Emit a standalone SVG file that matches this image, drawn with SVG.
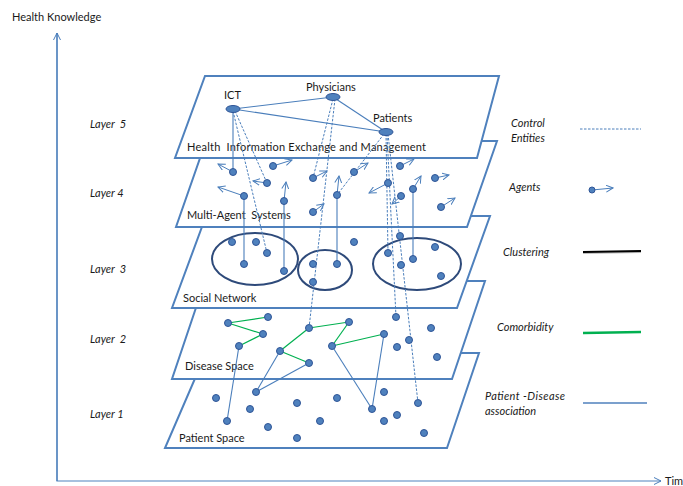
<svg xmlns="http://www.w3.org/2000/svg" width="683" height="486" viewBox="0 0 683 486">
<style>
text{font-family:Lato,"Liberation Sans",sans-serif;font-size:11px;fill:#1a1a1a;white-space:pre}
.it{font-style:italic}
.plane{fill:#fff;stroke:#4f81bd;stroke-width:2}
.dot{fill:#4f81bd;stroke:#2f5597;stroke-width:1}
.ln{stroke:#4a7ebb;stroke-width:1.1;fill:none}
.dash{stroke:#4a7ebb;stroke-width:1;stroke-dasharray:2.5 1.5;fill:none}
.arr{stroke:#4a7ebb;stroke-width:1;fill:none;marker-end:url(#oa)}
.green{stroke:#00b050;stroke-width:1.2;fill:none}
.clu{fill:none;stroke:#2e4a7a;stroke-width:2}
.axis{stroke:#4f81bd;stroke-width:1.2;fill:none}
</style>
<defs>
<marker id="oa" viewBox="0 0 8 8" refX="7" refY="4" markerWidth="8" markerHeight="8" markerUnits="userSpaceOnUse" orient="auto">
<path d="M0,0.5 L7,4 L0,7.5" fill="none" stroke="#4a7ebb" stroke-width="1"/>
</marker>
</defs>

<g id="axes">
<path class="axis" d="M57,33 V481 H661" marker-end="url(#oa)"/>
<path class="axis" d="M57,481 V33" marker-end="url(#oa)"/>
<text x="12" y="21">Health Knowledge</text>
<text x="665" y="485">Time</text>
</g>

<g id="layer-labels">
<text class="it" x="90" y="128">Layer  5</text>
<text class="it" x="90" y="197">Layer 4</text>
<text class="it" x="90" y="273">Layer  3</text>
<text class="it" x="90" y="343">Layer  2</text>
<text class="it" x="90" y="418">Layer 1</text>
</g>

<g id="layer1">
<polygon class="plane" points="206,353 479,353 447,448 165,448"/>
<text x="179" y="442">Patient Space</text>
</g>
<g id="layer2">
<polygon class="plane" points="205,281 485,281 452,379 172,379"/>
<text x="185" y="370">Disease Space</text>
</g>
<g id="layer3">
<polygon class="plane" points="206,216 490,216 457,308 172,308"/>
<text x="183" y="302">Social Network</text>
</g>
<g id="layer4">
<polygon class="plane" points="206,141 497,141 467,227 176,227"/>
<text x="187" y="219">Multi-Agent  Systems</text>
</g>
<g id="layer5">
<polygon class="plane" points="205,76 499,76 477,158 175,158"/>
<text x="187" y="151" textLength="239" lengthAdjust="spacing">Health  Information Exchange and Management</text>
</g>

<g id="clusters">
<ellipse class="clu" cx="255" cy="259" rx="43" ry="26"/>
<ellipse class="clu" cx="325" cy="270" rx="27" ry="20"/>
<ellipse class="clu" cx="417" cy="264" rx="44" ry="26"/>
</g>

<g id="connectors">
<line class="ln" x1="233" y1="109" x2="333" y2="97"/>
<line class="ln" x1="233" y1="109" x2="386" y2="132"/>
<line class="ln" x1="333" y1="97" x2="386" y2="132"/>
<line class="ln" x1="233" y1="109" x2="233" y2="172"/>
<line class="dash" x1="235" y1="111" x2="267" y2="183"/>
<line class="dash" x1="233" y1="111" x2="267" y2="253"/>
<line class="dash" x1="333" y1="99" x2="313" y2="178"/>
<line class="dash" x1="335" y1="99" x2="309" y2="328"/>
<line class="dash" x1="384" y1="134" x2="337" y2="195"/>
<line class="dash" x1="386" y1="134" x2="388" y2="253"/>
<line class="dash" x1="387" y1="134" x2="396" y2="317"/>
<line class="dash" x1="388" y1="134" x2="418" y2="403"/>
<line class="ln" x1="244" y1="196" x2="244" y2="264"/>
<line class="ln" x1="284" y1="201" x2="284" y2="271"/>
<line class="ln" x1="337" y1="195" x2="337" y2="264"/>
<line class="ln" x1="413" y1="189" x2="413" y2="259"/>
<line class="green" x1="228" y1="323" x2="268" y2="317"/>
<line class="green" x1="228" y1="323" x2="263" y2="334"/>
<line class="green" x1="263" y1="334" x2="239" y2="346"/>
<line class="green" x1="309" y1="328" x2="349" y2="322"/>
<line class="green" x1="309" y1="328" x2="280" y2="351"/>
<line class="green" x1="280" y1="351" x2="309" y2="363"/>
<line class="green" x1="349" y1="322" x2="332" y2="346" stroke-width="1.8"/>
<line class="green" x1="332" y1="346" x2="384" y2="334"/>
<line class="ln" x1="239" y1="346" x2="227" y2="421"/>
<line class="ln" x1="280" y1="351" x2="256" y2="392"/>
<line class="ln" x1="309" y1="363" x2="256" y2="392"/>
<line class="ln" x1="332" y1="346" x2="372" y2="409"/>
<line class="ln" x1="384" y1="334" x2="372" y2="409"/>
</g>

<g id="entities">
<g id="ict"><ellipse class="dot" cx="233" cy="109" rx="7" ry="3.5"/><text x="224" y="99">ICT</text></g>
<g id="physicians"><ellipse class="dot" cx="333" cy="97" rx="7" ry="3.5"/><text x="306" y="91">Physicians</text></g>
<g id="patients"><ellipse class="dot" cx="386" cy="132" rx="7" ry="3.5"/><text x="373" y="122">Patients</text></g>
</g>

<g id="agents">
<line class="arr" x1="233" y1="172" x2="218" y2="164"/><circle class="dot" cx="233" cy="172" r="3.5"/>
<line class="arr" x1="267" y1="183" x2="253" y2="181"/><circle class="dot" cx="267" cy="183" r="3.5"/>
<line class="arr" x1="273" y1="166" x2="292" y2="160"/><circle class="dot" cx="273" cy="166" r="3.5"/>
<line class="arr" x1="244" y1="196" x2="218" y2="187"/><circle class="dot" cx="244" cy="196" r="3.5"/>
<line class="arr" x1="284" y1="201" x2="286" y2="182"/><circle class="dot" cx="284" cy="201" r="3.5"/>
<line class="arr" x1="313" y1="178" x2="327" y2="171"/><circle class="dot" cx="313" cy="178" r="3.5"/>
<line class="arr" x1="313" y1="212" x2="324" y2="204"/><circle class="dot" cx="313" cy="212" r="3.5"/>
<line class="arr" x1="337" y1="195" x2="339" y2="176"/><circle class="dot" cx="337" cy="195" r="3.5"/>
<line class="arr" x1="354" y1="172" x2="368" y2="163"/><circle class="dot" cx="354" cy="172" r="3.5"/>
<line class="arr" x1="400" y1="166" x2="414" y2="159"/><circle class="dot" cx="400" cy="166" r="3.5"/>
<line class="arr" x1="388" y1="183" x2="369" y2="193"/><circle class="dot" cx="388" cy="183" r="3.5"/>
<line class="arr" x1="401" y1="196" x2="392" y2="204"/><circle class="dot" cx="401" cy="196" r="3.5"/>
<line class="arr" x1="413" y1="189" x2="421" y2="176"/><circle class="dot" cx="413" cy="189" r="3.5"/>
<line class="arr" x1="435" y1="178" x2="449" y2="175"/><circle class="dot" cx="435" cy="178" r="3.5"/>
<line class="arr" x1="441" y1="207" x2="455" y2="198"/><circle class="dot" cx="441" cy="207" r="3.5"/>
</g>

<g id="social-nodes">
<circle class="dot" cx="232" cy="242" r="3.5"/>
<circle class="dot" cx="256" cy="242" r="3.5"/>
<circle class="dot" cx="267" cy="253" r="3.5"/>
<circle class="dot" cx="244" cy="264" r="3.5"/>
<circle class="dot" cx="284" cy="271" r="3.5"/>
<circle class="dot" cx="313" cy="264" r="3.5"/>
<circle class="dot" cx="337" cy="264" r="3.5"/>
<circle class="dot" cx="313" cy="282" r="3.5"/>
<circle class="dot" cx="354" cy="242" r="3.5"/>
<circle class="dot" cx="400" cy="236" r="3.5"/>
<circle class="dot" cx="388" cy="253" r="3.5"/>
<circle class="dot" cx="401" cy="265" r="3.5"/>
<circle class="dot" cx="413" cy="259" r="3.5"/>
<circle class="dot" cx="435" cy="247" r="3.5"/>
<circle class="dot" cx="441" cy="276" r="3.5"/>
</g>

<g id="disease-nodes">
<circle class="dot" cx="228" cy="323" r="3.5"/>
<circle class="dot" cx="268" cy="317" r="3.5"/>
<circle class="dot" cx="263" cy="334" r="3.5"/>
<circle class="dot" cx="239" cy="346" r="3.5"/>
<circle class="dot" cx="309" cy="328" r="3.5"/>
<circle class="dot" cx="349" cy="322" r="3.5"/>
<circle class="dot" cx="384" cy="334" r="3.5"/>
<circle class="dot" cx="332" cy="346" r="3.5"/>
<circle class="dot" cx="280" cy="351" r="3.5"/>
<circle class="dot" cx="309" cy="363" r="3.5"/>
<circle class="dot" cx="396" cy="317" r="3.5"/>
<circle class="dot" cx="431" cy="328" r="3.5"/>
<circle class="dot" cx="409" cy="340" r="3.5"/>
<circle class="dot" cx="397" cy="347" r="3.5"/>
<circle class="dot" cx="437" cy="357" r="3.5"/>
</g>

<g id="patient-nodes">
<circle class="dot" cx="216" cy="398" r="3.5"/>
<circle class="dot" cx="256" cy="392" r="3.5"/>
<circle class="dot" cx="250" cy="409" r="3.5"/>
<circle class="dot" cx="227" cy="421" r="3.5"/>
<circle class="dot" cx="268" cy="427" r="3.5"/>
<circle class="dot" cx="297" cy="403" r="3.5"/>
<circle class="dot" cx="297" cy="438" r="3.5"/>
<circle class="dot" cx="320" cy="421" r="3.5"/>
<circle class="dot" cx="337" cy="398" r="3.5"/>
<circle class="dot" cx="372" cy="409" r="3.5"/>
<circle class="dot" cx="384" cy="392" r="3.5"/>
<circle class="dot" cx="384" cy="421" r="3.5"/>
<circle class="dot" cx="397" cy="415" r="3.5"/>
<circle class="dot" cx="418" cy="403" r="3.5"/>
<circle class="dot" cx="424" cy="433" r="3.5"/>
</g>

<g id="legend">
<text class="it" x="511" y="127">Control</text>
<text class="it" x="511" y="142">Entities</text>
<line class="dash" x1="580" y1="129" x2="641" y2="129" stroke-dasharray="1.5 1"/>
<text class="it" x="509" y="191">Agents</text>
<line class="arr" x1="592" y1="190" x2="613" y2="188"/>
<circle class="dot" cx="592" cy="190" r="3"/>
<text class="it" x="503" y="256">Clustering</text>
<line x1="583" y1="253" x2="641" y2="252" stroke="#bbb" stroke-width="2"/>
<line x1="583" y1="252" x2="641" y2="251" stroke="#000" stroke-width="1.8"/>
<text class="it" x="497" y="331">Comorbidity</text>
<line x1="583" y1="333" x2="641" y2="332" stroke="#00b050" stroke-width="2.5"/>
<text class="it" x="485" y="400" textLength="80" lengthAdjust="spacing">Patient -Disease</text>
<text class="it" x="485" y="415">association</text>
<line x1="583" y1="403" x2="647" y2="403" stroke="#4f81bd" stroke-width="1.6"/>
</g>
</svg>
